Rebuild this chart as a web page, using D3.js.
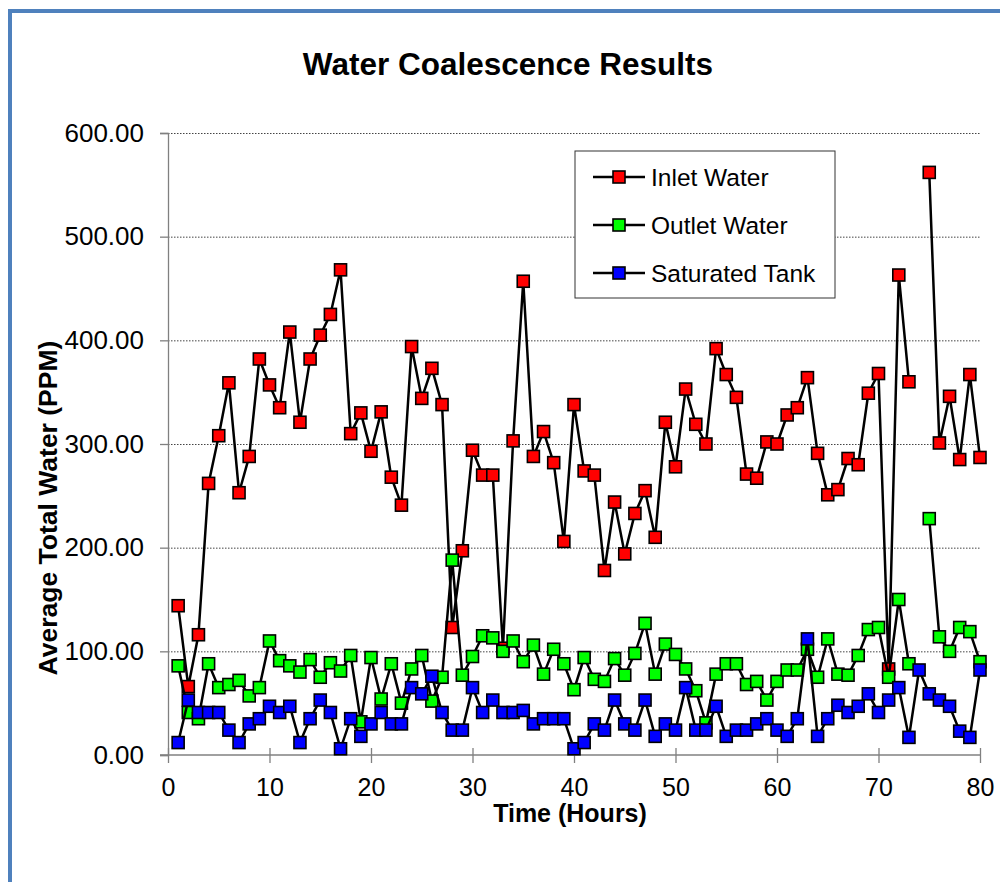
<!DOCTYPE html>
<html lang="en">
<head>
  <meta charset="UTF-8" />
  <title>Water Coalescence Results</title>
  <script src="https://d3js.org/d3.v7.min.js"></script>
  <style>
    body { margin: 0; background: #fff; }
    svg { display: block; font-family: Arial, "Liberation Sans", sans-serif; }
    .grid line { stroke: #444; stroke-dasharray: 1.5,1.5; stroke-width: 1; }
    .grid path { display: none; }
    .axis path, .axis line { stroke: #808080; stroke-width: 1.3; }
    .axis text { fill: #000; }
  </style>
</head>
<body>
  <svg width="1000" height="882"></svg>

  <script>
    // hours of the test
    const hours = [1, 2, 3, 4, 5, 6, 7, 8, 9, 10, 11, 12, 13, 14, 15, 16, 17, 18, 19, 20,
      21, 22, 23, 24, 25, 26, 27, 28, 29, 30, 31, 32, 33, 34, 35, 36, 37, 38, 39, 40,
      41, 42, 43, 44, 45, 46, 47, 48, 49, 50, 51, 52, 53, 54, 55, 56, 57, 58, 59, 60,
      61, 62, 63, 64, 65, 66, 67, 68, 69, 70, 71, 72, 73, 74, 75, 76, 77, 78, 79, 80];

    const inletWater = [144, 66, 116, 262, 308, 359, 253, 288, 382, 357,
      335, 408, 321, 382, 405, 425, 468, 310, 330, 293,
      331, 268, 241, 394, 344, 373, 338, 123, 197, 294,
      270, 270, 103, 303, 457, 288, 312, 282, 206, 338,
      274, 270, 178, 244, 194, 233, 255, 210, 321, 278,
      353, 319, 300, 392, 367, 345, 271, 267, 302, 300,
      328, 335, 364, 291, 251, 256, 286, 280, 349, 368,
      83, 463, 360, null, 562, 301, 346, 285, 367, 287];

    const outletWater = [86, 41, 35, 88, 65, 68, 72, 57, 65, 110,
      91, 86, 80, 92, 75, 89, 81, 96, 32, 94,
      54, 88, 50, 83, 96, 52, 75, 188, 77, 95,
      115, 113, 100, 110, 90, 106, 78, 102, 88, 63,
      94, 73, 71, 93, 77, 98, 127, 78, 107, 97,
      83, 62, 31, 78, 88, 88, 68, 71, 53, 71,
      82, 82, 102, 75, 112, 78, 77, 96, 121, 123,
      75, 150, 88, null, 228, 114, 100, 123, 119, 90];

    const saturatedTank = [12, 53, 41, 41, 41, 24, 12, 30, 35, 47,
      41, 47, 12, 35, 53, 41, 6, 35, 18, 30,
      41, 30, 30, 65, 59, 76, 41, 24, 24, 65,
      41, 53, 41, 41, 43, 30, 35, 35, 35, 6,
      12, 30, 24, 53, 30, 24, 53, 18, 30, 24,
      65, 24, 24, 47, 18, 24, 24, 30, 35, 24,
      18, 35, 112, 18, 35, 48, 41, 47, 59, 41,
      53, 65, 17, 82, 59, 53, 47, 23, 17, 82];

    const seriesNames = ["Inlet Water", "Outlet Water", "Saturated Tank"];
    const seriesColors = ["#ff0000", "#00ff00", "#0000ff"];
    const xTicks = [0, 10, 20, 30, 40, 50, 60, 70, 80];
    const yTicks = [0, 100, 200, 300, 400, 500, 600];

    const svg = d3.select("svg");

    const plotLeft = 168, plotRight = 980, plotTop = 133, plotBottom = 755;

    const x = d3.scaleLinear().domain([0, 80]).range([plotLeft, plotRight]);
    const y = d3.scaleLinear().domain([0, 600]).range([plotBottom, plotTop]);

    // blue frame (left and top edges only are visible)
    svg.append("line")
      .attr("x1", 10).attr("x2", 10).attr("y1", 9).attr("y2", 882)
      .attr("stroke", "#4f81bd").attr("stroke-width", 4);
    svg.append("line")
      .attr("x1", 8).attr("x2", 1000).attr("y1", 11).attr("y2", 11)
      .attr("stroke", "#4f81bd").attr("stroke-width", 4);

    // gridlines
    svg.append("g")
      .attr("class", "grid")
      .attr("transform", `translate(${plotLeft},0)`)
      .call(d3.axisLeft(y).tickValues(yTicks.filter(d => d > 0)).tickSize(-(plotRight - plotLeft)).tickFormat(""));

    // y axis
    const yAxis = svg.append("g")
      .attr("class", "axis")
      .attr("transform", `translate(${plotLeft},0)`)
      .call(d3.axisLeft(y).tickValues(yTicks).tickSizeOuter(0).tickSize(8).tickPadding(16).tickFormat(d3.format(".2f")));
    yAxis.selectAll("text").style("font-size", "26px");

    // x axis
    const xAxis = svg.append("g")
      .attr("class", "axis")
      .attr("transform", `translate(0,${plotBottom})`)
      .call(d3.axisBottom(x).tickValues(xTicks).tickSizeOuter(0).tickSize(8).tickPadding(15));
    xAxis.select("path").attr("d", `M${plotLeft - 8},0H${plotRight}`);
    xAxis.selectAll(".tick line").attr("y1", -7);
    xAxis.selectAll("text").style("font-size", "25px");

    // series
    const seriesData = [inletWater, outletWater, saturatedTank];
    const line = d3.line()
      .defined(d => d.v != null)
      .x(d => x(d.h))
      .y(d => y(d.v));

    const ms = 12;
    seriesData.forEach(function(values, i) {
      const pts = hours.map((h, j) => ({ h: h, v: values[j] }));
      const g = svg.append("g");
      g.append("path")
        .datum(pts)
        .attr("fill", "none")
        .attr("stroke", "#000")
        .attr("stroke-width", 2.5)
        .attr("d", line);
      g.selectAll("rect")
        .data(pts.filter(d => d.v != null))
        .enter()
        .append("rect")
        .attr("x", d => x(d.h) - ms / 2)
        .attr("y", d => y(d.v) - ms / 2)
        .attr("width", ms)
        .attr("height", ms)
        .attr("fill", seriesColors[i])
        .attr("stroke", "#000")
        .attr("stroke-width", 1.6);
    });

    // legend
    const legend = svg.append("g").attr("transform", "translate(575,151)");
    legend.append("rect")
      .attr("width", 260).attr("height", 147)
      .attr("fill", "#fff").attr("stroke", "#333").attr("stroke-width", 1);
    seriesNames.forEach(function(name, i) {
      const ly = 26 + i * 48;
      legend.append("line")
        .attr("x1", 18).attr("x2", 70).attr("y1", ly).attr("y2", ly)
        .attr("stroke", "#000").attr("stroke-width", 2.5);
      legend.append("rect")
        .attr("x", 44 - 6).attr("y", ly - 6).attr("width", 12).attr("height", 12)
        .attr("fill", seriesColors[i]).attr("stroke", "#000").attr("stroke-width", 1.6);
      legend.append("text")
        .attr("x", 76).attr("y", ly + 8.5)
        .style("font-size", "24.5px")
        .text(name);
    });

    // title
    svg.append("text")
      .attr("x", 508)
      .attr("y", 75)
      .attr("text-anchor", "middle")
      .style("font-size", "31.5px")
      .style("font-weight", "bold")
      .text("Water Coalescence Results");

    // x-axis label
    svg.append("text")
      .attr("x", 570)
      .attr("y", 822)
      .attr("text-anchor", "middle")
      .style("font-size", "25px")
      .style("font-weight", "bold")
      .text("Time (Hours)");

    // y-axis label
    svg.append("text")
      .attr("transform", "translate(57,508) rotate(-90)")
      .attr("text-anchor", "middle")
      .style("font-size", "26.5px")
      .style("font-weight", "bold")
      .text("Average Total Water (PPM)");
  </script>
</body>
</html>
